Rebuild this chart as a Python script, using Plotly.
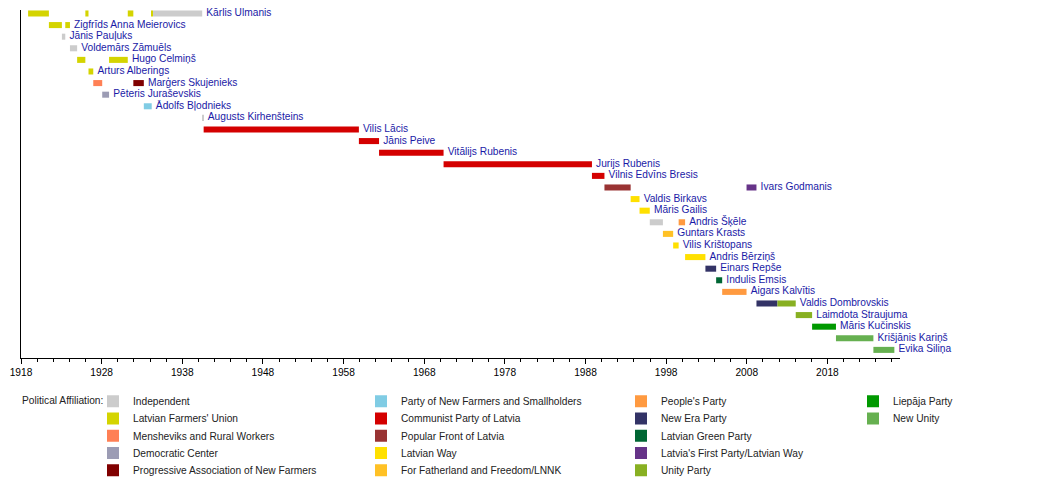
import plotly.graph_objects as go

# prime ministers, one row each, top to bottom
pm_names = [
    "Kārlis Ulmanis", "Zigfrīds Anna Meierovics", "Jānis Pauļuks", "Voldemārs Zāmuēls",
    "Hugo Celmiņš", "Arturs Alberings", "Marģers Skujenieks", "Pēteris Juraševskis",
    "Ādolfs Bļodnieks", "Augusts Kirhenšteins", "Vilis Lācis", "Jānis Peive",
    "Vitālijs Rubenis", "Jurijs Rubenis", "Vilnis Edvīns Bresis", "Ivars Godmanis",
    "Valdis Birkavs", "Māris Gailis", "Andris Šķēle", "Guntars Krasts",
    "Vilis Krištopans", "Andris Bērziņš", "Einars Repše", "Indulis Emsis",
    "Aigars Kalvītis", "Valdis Dombrovskis", "Laimdota Straujuma", "Māris Kučinskis",
    "Krišjānis Kariņš", "Evika Siliņa",
]

# terms in office: row index, start year, end year, party index
term_row = [0, 0, 0, 0, 0, 1, 1, 2, 3, 4, 4, 5, 6, 6, 7, 8, 9, 10, 11, 12,
            13, 14, 15, 15, 16, 17, 18, 18, 19, 20, 21, 22, 23, 24, 25, 25,
            26, 27, 28, 29]
term_start = [1918.88, 1925.98, 1931.24, 1934.21, 1934.37, 1921.46, 1923.49,
              1923.07, 1924.07, 1924.96, 1928.92, 1926.37, 1926.96, 1931.93,
              1928.07, 1933.23, 1940.47, 1940.65, 1959.9, 1962.4,
              1970.4, 1988.8, 1990.35, 2007.97, 1993.6, 1994.7, 1995.97, 1999.55,
              1997.6, 1998.87, 2000.35, 2002.87, 2004.2, 2004.95, 2009.2, 2011.8,
              2014.07, 2016.1, 2019.06, 2023.7]
term_end = [1921.46, 1926.37, 1931.93, 1934.37, 1940.47, 1923.07, 1924.07,
            1923.49, 1924.96, 1925.98, 1931.24, 1926.96, 1928.07, 1933.23,
            1928.92, 1934.21, 1940.65, 1959.9, 1962.4, 1970.4,
            1988.8, 1990.35, 1993.6, 2009.2, 1994.7, 1995.97, 1997.6, 2000.35,
            1998.87, 1999.55, 2002.87, 2004.2, 2004.95, 2007.97, 2011.8, 2014.07,
            2016.1, 2019.06, 2023.7, 2026.3]
term_party = [1, 1, 1, 1, 0, 1, 1, 0, 0, 1, 1, 1, 2, 4, 3, 5, 0, 6, 6, 6,
              6, 6, 7, 13, 8, 8, 0, 10, 9, 8, 8, 11, 12, 10, 11, 14,
              14, 15, 16, 16]

parties = [
    "Independent", "Latvian Farmers' Union", "Mensheviks and Rural Workers",
    "Democratic Center", "Progressive Association of New Farmers",
    "Party of New Farmers and Smallholders", "Communist Party of Latvia",
    "Popular Front of Latvia", "Latvian Way", "For Fatherland and Freedom/LNNK",
    "People's Party", "New Era Party", "Latvian Green Party",
    "Latvia's First Party/Latvian Way", "Unity Party", "Liepāja Party", "New Unity",
]
party_colors = [
    "#cccccc", "#d4d400", "#ff8055", "#9c9cb4", "#800000",
    "#80cce4", "#d40000", "#993333", "#ffe000", "#ffc125",
    "#ff9a40", "#333366", "#006633", "#663388", "#88b022", "#009900", "#66b050",
]

FONT = "Liberation Sans, Arial, sans-serif"

# the page body adds an 8px margin, so figure pixels = screen pixels - 8
PL, PR, PT, PB = 13, 892, 2, 350

# legend grid: 5 rows per column, legend box left edge and top in figure pixels
col_left = [85, 353, 613, 845]
row_top = [378.7, 396.0, 413.3, 430.5, 447.7]

fig = go.Figure()

legends = {}
for p, party in enumerate(parties):
    idx = [i for i, t in enumerate(term_party) if t == p]
    key = "legend" if p == 0 else "legend%d" % (p + 1)
    fig.add_trace(go.Bar(
        orientation="h",
        y=[term_row[i] for i in idx],
        base=[term_start[i] for i in idx],
        x=[term_end[i] - term_start[i] for i in idx],
        width=0.52,
        marker=dict(color=party_colors[p], line=dict(width=0)),
        name=party,
        legend=key,
        hoverinfo="skip",
    ))
    # one small legend per party so the entries sit on the same grid as the original
    legends[key] = dict(
        x=(col_left[p // 5] - PL) / (PR - PL),
        y=(PB - row_top[p % 5]) / (PB - PT),
        xref="paper", yref="paper",
        xanchor="left", yanchor="top",
        font=dict(family=FONT, size=10.2, color="#222222"),
        bgcolor="rgba(0,0,0,0)",
    )

# name label at the end of each person's last term
label_x = []
for r in range(len(pm_names)):
    label_x.append(max(term_end[i] for i in range(len(term_row)) if term_row[i] == r))

fig.add_trace(go.Scatter(
    x=label_x,
    y=list(range(len(pm_names))),
    mode="markers+text",
    marker=dict(size=5, color="rgba(0,0,0,0)"),
    text=pm_names,
    textposition="middle right",
    textfont=dict(family=FONT, size=10.2, color="#1a1aa6"),
    cliponaxis=False,
    showlegend=False,
    hoverinfo="skip",
))

fig.update_layout(
    width=1050,
    height=478,
    margin=dict(l=PL, r=1050 - PR, t=PT, b=478 - PB, autoexpand=False),
    plot_bgcolor="white",
    paper_bgcolor="white",
    barmode="overlay",
    font=dict(family=FONT, size=10.2, color="black"),
    xaxis=dict(
        type="linear",
        range=[1918, 2027],
        tick0=1918, dtick=10,
        ticks="outside", ticklen=5, tickcolor="black",
        minor=dict(dtick=2, tick0=1918, ticks="outside", ticklen=3, tickcolor="black"),
        showline=True, linecolor="black", linewidth=1,
        showgrid=False, zeroline=False,
        tickfont=dict(family=FONT, size=10.2, color="black"),
    ),
    yaxis=dict(
        type="linear",
        range=[29.7, -0.3],
        showticklabels=False, ticks="",
        showline=True, linecolor="black", linewidth=1,
        showgrid=False, zeroline=False,
    ),
    annotations=[dict(
        text="Political Affiliation:",
        xref="paper", yref="paper",
        x=(12 - PL) / (PR - PL), y=(PB - 392.7) / (PB - PT),
        xanchor="left", yanchor="middle",
        showarrow=False,
        font=dict(family=FONT, size=10.2, color="#222222"),
    )],
    **legends,
)

fig.write_html("out.html")
